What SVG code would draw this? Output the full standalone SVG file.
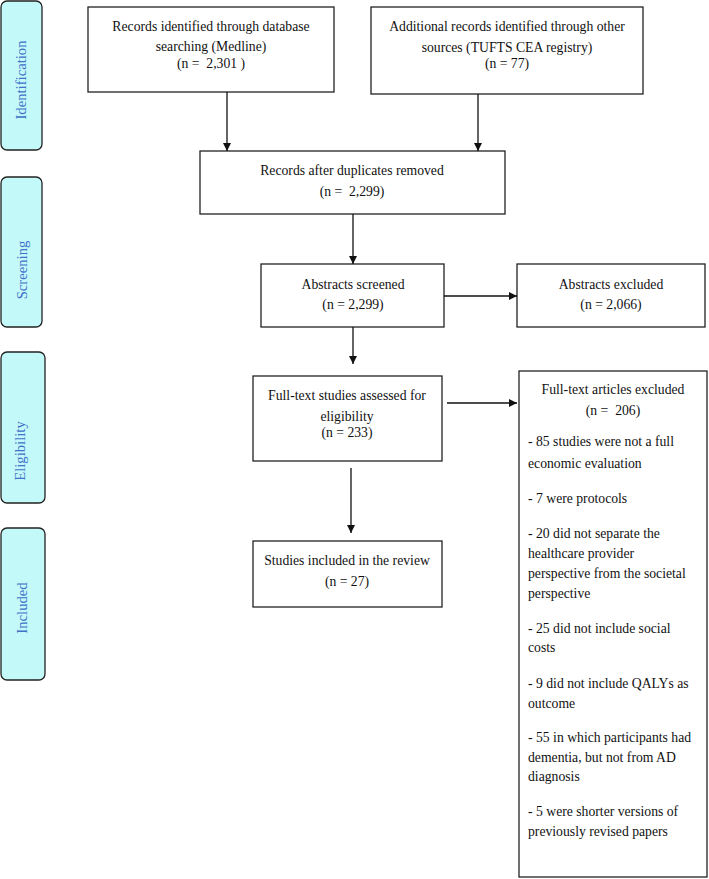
<svg xmlns="http://www.w3.org/2000/svg" width="709" height="879" viewBox="0 0 709 879">
<defs>
<style>
.box{fill:#fff;stroke:#222;stroke-width:1.3}
.tab{fill:#c4f9fa;stroke:#222;stroke-width:1.3}
.t{font-family:"Liberation Serif","Times New Roman",serif;font-size:13.7px;fill:#111;white-space:pre}
.c{text-anchor:middle}
.lab{font-family:"Liberation Serif","Times New Roman",serif;font-size:14.7px;fill:#3f72c8;text-anchor:middle}
.ln{stroke:#111;stroke-width:1.3;fill:none}
</style>
<marker id="ah" viewBox="0 0 10 10" refX="10" refY="5" markerWidth="8" markerHeight="8" markerUnits="userSpaceOnUse" orient="auto">
<path d="M0,0 L10,5 L0,10 z" fill="#111"/>
</marker>
</defs>
<rect width="709" height="879" fill="#fff"/>

<g id="tab-identification">
<rect class="tab" x="1" y="1" width="41" height="149" rx="6"/>
<text class="lab" transform="translate(26,80) rotate(-90)">Identification</text>
</g>
<g id="tab-screening">
<rect class="tab" x="1" y="177" width="41" height="150" rx="6"/>
<text class="lab" transform="translate(27,270) rotate(-90)">Screening</text>
</g>
<g id="tab-eligibility">
<rect class="tab" x="1" y="352" width="44" height="151" rx="6"/>
<text class="lab" transform="translate(25,451) rotate(-90)">Eligibility</text>
</g>
<g id="tab-included">
<rect class="tab" x="1" y="528" width="44" height="152" rx="6"/>
<text class="lab" transform="translate(27,608) rotate(-90)">Included</text>
</g>

<g id="n-db">
<rect class="box" x="88" y="7" width="246" height="85"/>
<text class="t c" x="211" y="31">Records identified through database</text>
<text class="t c" x="211" y="51">searching (Medline)</text>
<text class="t c" x="211" y="68">(n =  2,301 )</text>
</g>
<g id="n-other">
<rect class="box" x="371" y="7" width="272" height="87"/>
<text class="t c" x="507" y="31">Additional records identified through other</text>
<text class="t c" x="507" y="52">sources (TUFTS CEA registry)</text>
<text class="t c" x="507" y="68">(n = 77)</text>
</g>
<g id="n-dup">
<rect class="box" x="200" y="151" width="305" height="63"/>
<text class="t c" x="352" y="175">Records after duplicates removed</text>
<text class="t c" x="352" y="196">(n =  2,299)</text>
</g>
<g id="n-screened">
<rect class="box" x="261" y="264" width="183" height="63"/>
<text class="t c" x="353" y="289">Abstracts screened</text>
<text class="t c" x="353" y="309">(n = 2,299)</text>
</g>
<g id="n-absexcl">
<rect class="box" x="517" y="264" width="188" height="63"/>
<text class="t c" x="611" y="289">Abstracts excluded</text>
<text class="t c" x="611" y="309">(n = 2,066)</text>
</g>
<g id="n-fulltext">
<rect class="box" x="253" y="376" width="189" height="85"/>
<text class="t c" x="347" y="400">Full-text studies assessed for</text>
<text class="t c" x="347" y="421">eligibility</text>
<text class="t c" x="347" y="437">(n = 233)</text>
</g>
<g id="n-ftexcl">
<rect class="box" x="519" y="371" width="188" height="506"/>
<text class="t c" x="613" y="394">Full-text articles excluded</text>
<text class="t c" x="613" y="415">(n =  206)</text>
<text class="t" x="528" y="446">- 85 studies were not a full</text>
<text class="t" x="528" y="468">economic evaluation</text>
<text class="t" x="528" y="503">- 7 were protocols</text>
<text class="t" x="528" y="538">- 20 did not separate the</text>
<text class="t" x="528" y="558">healthcare provider</text>
<text class="t" x="528" y="578">perspective from the societal</text>
<text class="t" x="528" y="598">perspective</text>
<text class="t" x="528" y="633">- 25 did not include social</text>
<text class="t" x="528" y="652">costs</text>
<text class="t" x="528" y="688">- 9 did not include QALYs as</text>
<text class="t" x="528" y="708">outcome</text>
<text class="t" x="528" y="742">- 55 in which participants had</text>
<text class="t" x="528" y="762">dementia, but not from AD</text>
<text class="t" x="528" y="781">diagnosis</text>
<text class="t" x="528" y="816">- 5 were shorter versions of</text>
<text class="t" x="528" y="836">previously revised papers</text>
</g>
<g id="n-included">
<rect class="box" x="253" y="541" width="189" height="66"/>
<text class="t c" x="347" y="565">Studies included in the review</text>
<text class="t c" x="347" y="586">(n = 27)</text>
</g>

<g id="connectors">
<line class="ln" x1="227" y1="92" x2="227" y2="151" marker-end="url(#ah)"/>
<line class="ln" x1="478" y1="94" x2="478" y2="151" marker-end="url(#ah)"/>
<line class="ln" x1="353" y1="214" x2="353" y2="264" marker-end="url(#ah)"/>
<line class="ln" x1="444" y1="296" x2="517" y2="296" marker-end="url(#ah)"/>
<line class="ln" x1="353" y1="327" x2="353" y2="364" marker-end="url(#ah)"/>
<line class="ln" x1="447" y1="403" x2="517" y2="403" marker-end="url(#ah)"/>
<line class="ln" x1="351" y1="468" x2="351" y2="533" marker-end="url(#ah)"/>
</g>
</svg>
